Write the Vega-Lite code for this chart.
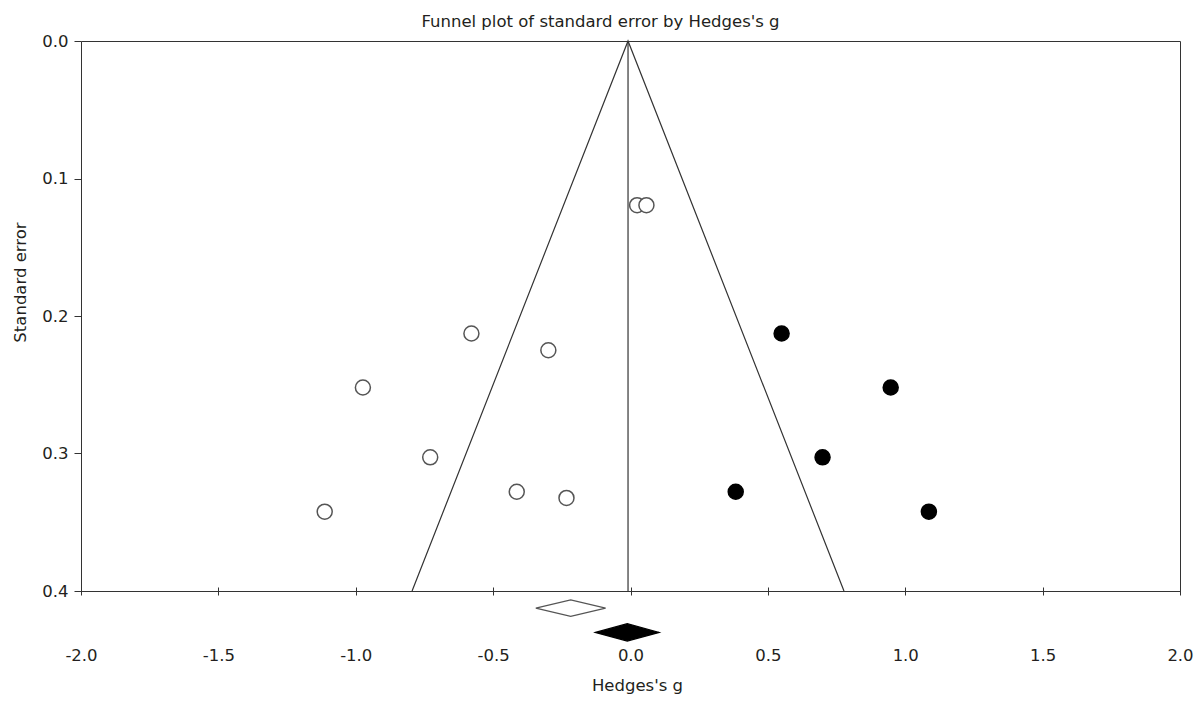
{
  "$schema": "https://vega.github.io/schema/vega-lite/v6.json",
  "autosize": "none",
  "padding": {"left": 81, "top": 41, "right": 19, "bottom": 113},
  "width": 1099,
  "height": 550,
  "background": "white",
  "title": {
    "text": "Funnel plot of standard error by Hedges's g",
    "anchor": "middle",
    "dx": -30,
    "offset": -10,
    "baseline": "alphabetic",
    "font": "DejaVu Sans",
    "fontSize": 16.5,
    "fontWeight": "normal",
    "color": "#231f20"
  },
  "config": {
    "font": "DejaVu Sans",
    "view": {"stroke": "#333333", "strokeWidth": 1},
    "axis": {"grid": false}
  },
  "datasets": {
    "studies": [
      {"g": 0.024, "se": 0.1194, "kind": "observed"},
      {"g": 0.058, "se": 0.1194, "kind": "observed"},
      {"g": -0.579, "se": 0.2127, "kind": "observed"},
      {"g": -0.299, "se": 0.2249, "kind": "observed"},
      {"g": -0.974, "se": 0.252, "kind": "observed"},
      {"g": -0.729, "se": 0.3028, "kind": "observed"},
      {"g": -0.414, "se": 0.3278, "kind": "observed"},
      {"g": -0.233, "se": 0.3323, "kind": "observed"},
      {"g": -1.113, "se": 0.3423, "kind": "observed"},
      {"g": 0.55, "se": 0.2127, "kind": "imputed"},
      {"g": 0.947, "se": 0.252, "kind": "imputed"},
      {"g": 0.699, "se": 0.3028, "kind": "imputed"},
      {"g": 0.383, "se": 0.3278, "kind": "imputed"},
      {"g": 1.086, "se": 0.3423, "kind": "imputed"}
    ],
    "funnel": [
      {"g": -0.795, "se": 0.4},
      {"g": -0.009, "se": 0.0},
      {"g": 0.777, "se": 0.4}
    ],
    "centre": [
      {"g": -0.009, "se": 0.0, "se2": 0.4}
    ],
    "diamonds": [
      {"g": -0.3446, "top": 0.4124, "bottom": 0.4124, "kind": "observed"},
      {"g": -0.2176, "top": 0.4064, "bottom": 0.4184, "kind": "observed"},
      {"g": -0.0906, "top": 0.4124, "bottom": 0.4124, "kind": "observed"},
      {"g": -0.1278, "top": 0.4301, "bottom": 0.4301, "kind": "imputed"},
      {"g": -0.0118, "top": 0.4238, "bottom": 0.4364, "kind": "imputed"},
      {"g": 0.1042, "top": 0.4301, "bottom": 0.4301, "kind": "imputed"}
    ]
  },
  "encoding": {
    "x": {
      "field": "g",
      "type": "quantitative",
      "scale": {"domain": [-2, 2], "nice": false, "zero": false},
      "axis": {
        "values": [-2, -1.5, -1, -0.5, 0, 0.5, 1, 1.5, 2],
        "labelExpr": "datum.value < 0 ? '-' + format(-datum.value, '.1f') : format(datum.value, '.1f')",
        "domain": false,
        "tickSize": 8,
        "offset": -4,
        "tickColor": "#333333",
        "labelPadding": 65,
        "labelBaseline": "alphabetic",
        "labelFlush": false,
        "labelFontSize": 16.5,
        "labelColor": "#231f20",
        "title": "Hedges's g",
        "titleFontSize": 16.5,
        "titleFontWeight": "normal",
        "titleColor": "#231f20",
        "titleBaseline": "alphabetic",
        "titleX": 556,
        "titleY": 103
      }
    },
    "y": {
      "field": "se",
      "type": "quantitative",
      "scale": {"domain": [0, 0.4], "nice": false, "zero": false, "reverse": true},
      "axis": {
        "values": [0, 0.1, 0.2, 0.3, 0.4],
        "format": ".1f",
        "domain": false,
        "tickSize": 7,
        "tickColor": "#333333",
        "labelPadding": 6,
        "labelFontSize": 16.5,
        "labelColor": "#231f20",
        "title": "Standard error",
        "titleFontSize": 16.5,
        "titleFontWeight": "normal",
        "titleColor": "#231f20",
        "titleBaseline": "alphabetic",
        "titleX": -56,
        "titleY": 241
      }
    }
  },
  "layer": [
    {
      "data": {"name": "funnel"},
      "mark": {"type": "line", "color": "#333333", "strokeWidth": 1.2, "clip": false},
      "encoding": {}
    },
    {
      "data": {"name": "centre"},
      "mark": {"type": "rule", "color": "#333333", "strokeWidth": 1.2},
      "encoding": {"y2": {"field": "se2"}}
    },
    {
      "data": {"name": "studies"},
      "mark": {"type": "point", "shape": "circle", "size": 225, "strokeWidth": 1.5, "filled": false, "opacity": 1},
      "encoding": {
        "fill": {"field": "kind", "type": "nominal", "scale": {"domain": ["observed", "imputed"], "range": ["white", "black"]}, "legend": null},
        "stroke": {"field": "kind", "type": "nominal", "scale": {"domain": ["observed", "imputed"], "range": ["#555555", "black"]}, "legend": null}
      }
    },
    {
      "data": {"name": "diamonds"},
      "mark": {"type": "area", "clip": false, "strokeWidth": 1.2, "opacity": 1, "fillOpacity": 1},
      "encoding": {
        "y": {"field": "top", "type": "quantitative"},
        "y2": {"field": "bottom"},
        "detail": {"field": "kind"},
        "fill": {"field": "kind", "type": "nominal", "legend": null},
        "stroke": {"field": "kind", "type": "nominal", "legend": null}
      }
    }
  ]
}
